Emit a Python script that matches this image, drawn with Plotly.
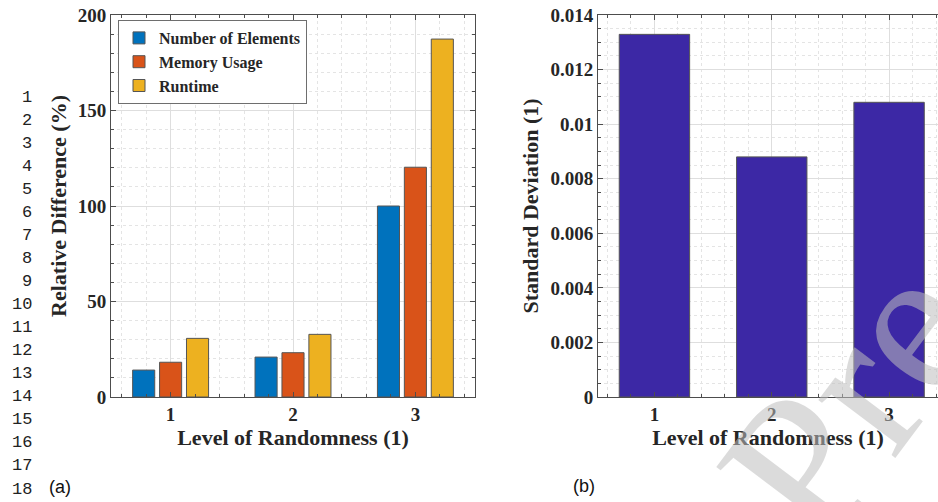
import plotly.graph_objects as go

# ---- data ----
levels = [1, 2, 3]
num_elements = [14.1, 20.9, 100.0]
memory_usage = [18.2, 23.2, 120.3]
runtime = [30.7, 32.8, 187.4]
series_names = ["Number of Elements", "Memory Usage", "Runtime"]
series_colors = ["#0072BD", "#D95319", "#EDB120"]

std_dev = [0.01329, 0.00880, 0.01080]
std_color = "#3C28A5"

left_yticks = [0, 50, 100, 150, 200]
right_yticks = [0, 0.002, 0.004, 0.006, 0.008, 0.01, 0.012, 0.014]
right_yticklabels = ["0", "0.002", "0.004", "0.006", "0.008", "0.01", "0.012", "0.014"]
x_ticklabels = ["1", "2", "3"]
line_numbers = [str(i) for i in range(1, 19)]

W, H = 938, 502
SERIF = "Liberation Serif"
TXT = "#262626"

fig = go.Figure()
for name, vals, col in zip(series_names, [num_elements, memory_usage, runtime], series_colors):
    fig.add_trace(go.Bar(x=levels, y=vals, name=name, marker=dict(color=col, line=dict(color="#555555", width=1)),
                         xaxis="x", yaxis="y"))

fig.add_trace(go.Bar(x=levels, y=std_dev, width=0.6, showlegend=False,
                     marker=dict(color=std_color, line=dict(color="#555555", width=1)),
                     xaxis="x2", yaxis="y2"))


def px_x(p):
    return p / W


def px_y(p):
    return 1 - p / H


tickfont = dict(family=SERIF, size=19, color=TXT, weight="bold")
titlefont = dict(family=SERIF, size=22, color=TXT, weight="bold")
grid_major = "#dedede"
grid_minor = "#e4e4e4"
axis_line = "#4d4d4d"

common_x = dict(tickmode="array", tickvals=levels, ticktext=x_ticklabels, tickfont=tickfont,
                showline=True, linecolor=axis_line, linewidth=1, ticks="inside", ticklen=5,
                tickcolor=axis_line, showgrid=True, gridcolor=grid_major, gridwidth=1, zeroline=False,
                automargin=False,
                minor=dict(dtick=0.2, tick0=0, ticks="inside", ticklen=3, tickcolor=axis_line,
                           showgrid=True, gridcolor=grid_minor, griddash="dot", gridwidth=1),
                title=dict(text="Level of Randomness (1)", font=titlefont, standoff=5))

fig.update_layout(
    width=W, height=H, margin=dict(l=0, r=0, t=0, b=0, pad=0, autoexpand=False),
    paper_bgcolor="white", plot_bgcolor="white",
    barmode="group", bargap=0.34, bargroupgap=0.18,
    xaxis=dict(domain=[px_x(111), px_x(475)], range=[0.513, 3.487], anchor="y",
               mirror="allticks", **common_x),
    yaxis=dict(domain=[px_y(397), px_y(15)], range=[0, 200], anchor="x",
               tickmode="array", tickvals=left_yticks, tickfont=tickfont,
               showline=True, linecolor=axis_line, linewidth=1, mirror="allticks",
               ticks="inside", ticklen=5, tickcolor=axis_line,
               showgrid=True, gridcolor=grid_major, zeroline=False, automargin=False,
               minor=dict(dtick=10, ticks="inside", ticklen=3, tickcolor=axis_line,
                          showgrid=True, gridcolor=grid_minor, griddash="dot"),
               title=dict(text="Relative Difference (%)", font=titlefont, standoff=5)),
    xaxis2=dict(domain=[px_x(598), 1.0], range=[0.519, 3.417], anchor="y2",
                mirror="allticks", **common_x),
    yaxis2=dict(domain=[px_y(397), px_y(15)], range=[0, 0.014], anchor="x2",
                tickmode="array", tickvals=right_yticks, ticktext=right_yticklabels, tickfont=tickfont,
                showline=True, linecolor=axis_line, linewidth=1, mirror=False,
                ticks="inside", ticklen=5, tickcolor=axis_line,
                showgrid=True, gridcolor=grid_major, zeroline=False, automargin=False,
                minor=dict(dtick=0.0005, ticks="inside", ticklen=3, tickcolor=axis_line,
                           showgrid=True, gridcolor=grid_minor, griddash="dot"),
                title=dict(text="Standard Deviation (1)", font=titlefont, standoff=5)),
    legend=dict(x=px_x(118), y=px_y(20), xanchor="left", yanchor="top",
                bgcolor="white", bordercolor="#6e6e6e", borderwidth=1,
                font=dict(family=SERIF, size=16, color=TXT, weight="bold"),
                tracegroupgap=0, itemwidth=30),
    showlegend=True,
)

annotations = []
# manuscript line numbers
for i, t in enumerate(line_numbers):
    annotations.append(dict(text=t, x=px_x(34), y=px_y(97 + i * 23.06), xref="paper", yref="paper",
                            xanchor="right", yanchor="middle", showarrow=False,
                            font=dict(family="Liberation Mono", size=17, color="#222222")))
annotations.append(dict(text="(a)", x=px_x(47), y=px_y(487), xref="paper", yref="paper",
                        xanchor="left", yanchor="middle", showarrow=False,
                        font=dict(family="Liberation Sans", size=18, color="#111111")))
annotations.append(dict(text="(b)", x=px_x(571), y=px_y(486), xref="paper", yref="paper",
                        xanchor="left", yanchor="middle", showarrow=False,
                        font=dict(family="Liberation Sans", size=18, color="#111111")))
# watermark fragment
annotations.append(dict(text="Pre", x=px_x(850), y=px_y(400), xref="paper", yref="paper",
                        xanchor="center", yanchor="middle", showarrow=False, textangle=-53,
                        font=dict(family=SERIF, size=210, color="rgba(190,190,190,0.55)")))
fig.update_layout(annotations=annotations)

fig.write_html("out.html")
